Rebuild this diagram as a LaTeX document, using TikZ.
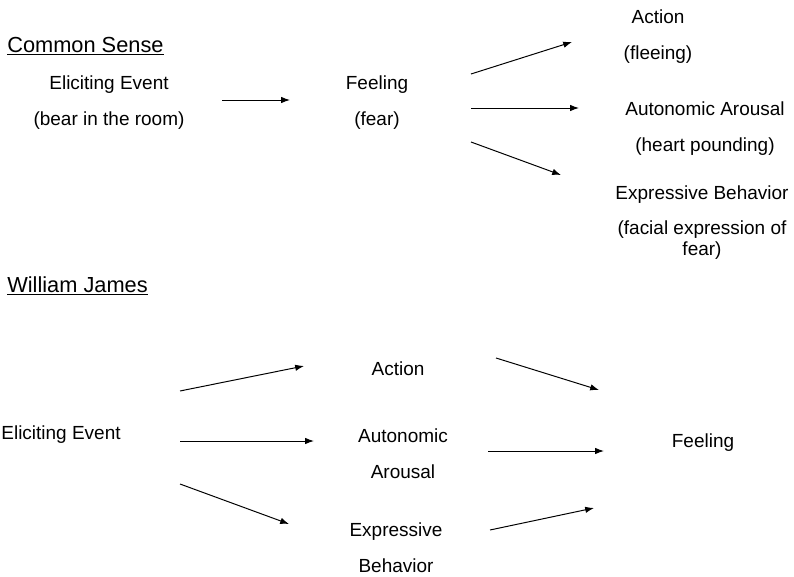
\documentclass[tikz,border=0pt]{standalone}
\usepackage{fontspec}
\setmainfont{Liberation Sans}
\usetikzlibrary{arrows.meta}

\tikzset{
	lbl/.style={align=center, inner sep=0pt, font=\fontsize{13.5}{25.5}\selectfont},
	head/.style={anchor=west, inner sep=0pt, font=\fontsize{15.5}{18}\selectfont},
	arr/.style={-{Latex[length=2.2mm,width=1.6mm]}, line width=0.7pt}
}

\begin{document}
\begin{tikzpicture}[x=0.025cm, y=-0.025cm]
					\useasboundingbox (0,0) rectangle (794,577);

					% Common Sense
					\node[head] (cs) at (7,46) {\underline{Common Sense}};
					\node[lbl] (ev1) at (109,103) {Eliciting Event\\(bear in the room)};
					\node[lbl] (fe1) at (377,103) {Feeling\\(fear)};
					\node[lbl] (ac1) at (658,37) {Action\\(fleeing)};
					\node[lbl] (au1) at (705,129) {Autonomic Arousal\\(heart pounding)};
					\node[lbl, anchor=north] (ex1) at (702,185) {Expressive Behavior\\(facial expression of\\[-10.5pt]fear)};

					\coordinate (a0) at (222,100);
					\coordinate (b0) at (290,100);
					\coordinate (f1) at (471,74);
					\coordinate (f2) at (471,108);
					\coordinate (f3) at (471,142);
					\coordinate (t1) at (572,42);
					\coordinate (t2) at (579,108);
					\coordinate (t3) at (561,175);

					\draw[arr] (a0) -- (b0);
					\draw[arr] (f1) -- (t1);
					\draw[arr] (f2) -- (t2);
					\draw[arr] (f3) -- (t3);

					% William James
					\node[head] (wj) at (7,286) {\underline{William James}};
					\node[lbl] (ev2) at (61,435) {Eliciting Event};
					\node[lbl] (ac2) at (398,369) {Action};
					\node[lbl] (au2) at (403,454) {Autonomic\\Arousal};
					\node[lbl] (ex2) at (396,548) {Expressive\\Behavior};
					\node[lbl] (fe2) at (703,443) {Feeling};

					\coordinate (e1) at (180,391);
					\coordinate (e2) at (180,441);
					\coordinate (e3) at (180,484);
					\coordinate (m1) at (304,366);
					\coordinate (m2) at (314,441);
					\coordinate (m3) at (289,524);
					\coordinate (n1) at (496,358);
					\coordinate (n2) at (488,451);
					\coordinate (n3) at (490,530);
					\coordinate (g1) at (599,390);
					\coordinate (g2) at (604,451);
					\coordinate (g3) at (594,508);

					\draw[arr] (e1) -- (m1);
					\draw[arr] (e2) -- (m2);
					\draw[arr] (e3) -- (m3);
					\draw[arr] (n1) -- (g1);
					\draw[arr] (n2) -- (g2);
					\draw[arr] (n3) -- (g3);
\end{tikzpicture}
\end{document}
